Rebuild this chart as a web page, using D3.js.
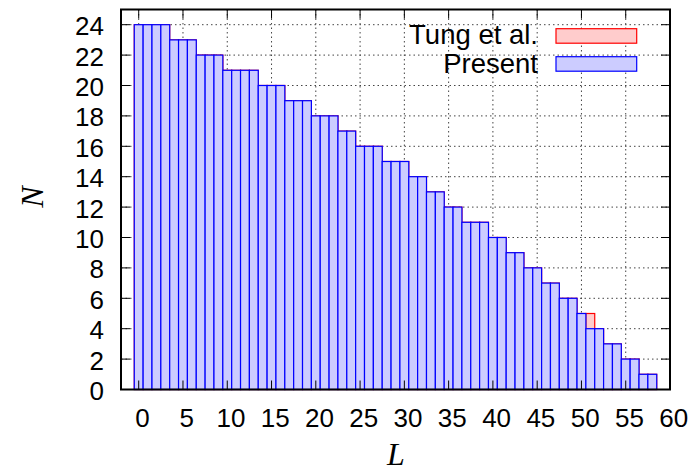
<!DOCTYPE html>
<html>
<head>
<meta charset="utf-8">
<script src="https://cdn.jsdelivr.net/npm/d3@7"></script>
<style>
  html, body { margin: 0; padding: 0; background: #fff; }
  svg { display: block; }
  text { font-family: "Liberation Sans", Arial, sans-serif; fill: #000; }
</style>
</head>
<body>
<svg id="chart" width="691" height="471"></svg>
<script>
const L = [0,1,2,3,4,5,6,7,8,9,10,11,12,13,14,15,16,17,18,19,20,21,22,23,24,25,26,27,28,29,
           30,31,32,33,34,35,36,37,38,39,40,41,42,43,44,45,46,47,48,49,50,51,52,53,54,55,56,57,58];
const present = [24,24,24,24,23,23,23,22,22,22,21,21,21,21,20,20,20,19,19,19,18,18,18,17,17,16,16,16,15,15,
                 15,14,14,13,13,12,12,11,11,11,10,10,9,9,8,8,7,7,6,6,5,4,4,3,3,2,2,1,1];
const tung    = [24,24,24,24,23,23,23,22,22,22,21,21,21,21,20,20,20,19,19,19,18,18,18,17,17,16,16,16,15,15,
                 15,14,14,13,13,12,12,11,11,11,10,10,9,9,8,8,7,7,6,6,5,5,4,3,3,2,2,1,1];
const xTicks = [0,5,10,15,20,25,30,35,40,45,50,55,60];
const yTicks = [0,2,4,6,8,10,12,14,16,18,20,22,24];
const seriesNames = ["Tung et al.", "Present"];

const svg = d3.select("#chart");
const pLeft = 121, pRight = 670, pTop = 9.5, pBottom = 389.5;
const x = d3.scaleLinear().domain([-2, 60]).range([pLeft, pRight]);
const y = d3.scaleLinear().domain([0, 25]).range([pBottom, pTop]);
const FONT = 26, TICK = 9;

// grid
const grid = svg.append("g").attr("stroke", "#444").attr("stroke-width", 1).attr("stroke-dasharray", "1.5,3");
xTicks.filter(t => t > -2 && t < 60).forEach(t => {
  grid.append("line").attr("x1", x(t)).attr("x2", x(t)).attr("y1", pTop).attr("y2", pBottom);
});
yTicks.filter(t => t > 0 && t < 25).forEach(t => {
  grid.append("line").attr("x1", pLeft).attr("x2", pRight).attr("y1", y(t)).attr("y2", y(t));
});

// bars
function drawBars(vals, fill, stroke) {
  svg.append("g").selectAll("rect").data(L).join("rect")
    .attr("x", d => x(d - 0.5))
    .attr("width", d => x(d + 0.5) - x(d - 0.5))
    .attr("y", (d, i) => y(vals[i]))
    .attr("height", (d, i) => y(0) - y(vals[i]))
    .attr("fill", fill).attr("stroke", stroke).attr("stroke-width", 1.2);
}
drawBars(tung, "#ffcccc", "#ff0000");
drawBars(present, "#ccccff", "#0000ff");

// ticks (inside, on all sides)
const tk = svg.append("g").attr("stroke", "#000").attr("stroke-width", 1);
xTicks.forEach(t => {
  tk.append("line").attr("x1", x(t)).attr("x2", x(t)).attr("y1", pBottom).attr("y2", pBottom - TICK);
  tk.append("line").attr("x1", x(t)).attr("x2", x(t)).attr("y1", pTop).attr("y2", pTop + TICK);
});
yTicks.forEach(t => {
  tk.append("line").attr("x1", pLeft).attr("x2", pLeft + TICK).attr("y1", y(t)).attr("y2", y(t));
  tk.append("line").attr("x1", pRight).attr("x2", pRight - TICK).attr("y1", y(t)).attr("y2", y(t));
});

// frame
svg.append("rect").attr("x", pLeft).attr("y", pTop).attr("width", pRight - pLeft).attr("height", pBottom - pTop)
  .attr("fill", "none").attr("stroke", "#000").attr("stroke-width", 2);

// tick labels
svg.append("g").selectAll("text").data(xTicks).join("text")
  .attr("x", d => x(d) + 3.7).attr("y", 427)
  .attr("text-anchor", "middle").attr("font-size", FONT).text(d => d);
svg.append("g").selectAll("text").data(yTicks).join("text")
  .attr("x", 104).attr("y", d => y(d) + 10.5)
  .attr("text-anchor", "end").attr("font-size", FONT).text(d => d);

// axis labels
svg.append("text").attr("x", 396).attr("y", 465).attr("text-anchor", "middle")
  .style("font-family", "'Liberation Serif', 'Times New Roman', serif").style("font-style", "italic")
  .attr("font-size", 32).text("L");
svg.append("text").attr("transform", "translate(43,197) rotate(-90)").attr("text-anchor", "middle")
  .style("font-family", "'Liberation Serif', 'Times New Roman', serif").style("font-style", "italic")
  .attr("font-size", 32).text("N");

// legend
const legend = [
  { name: seriesNames[0], fill: "#ffcccc", stroke: "#ff0000", by: 44, ry: 28.7 },
  { name: seriesNames[1], fill: "#ccccff", stroke: "#0000ff", by: 72.5, ry: 56.7 }
];
legend.forEach(l => {
  svg.append("text").attr("x", 538).attr("y", l.by).attr("text-anchor", "end")
    .attr("font-size", 27.5).text(l.name);
  svg.append("rect").attr("x", 556).attr("y", l.ry).attr("width", 80.7).attr("height", 14.5)
    .attr("fill", l.fill).attr("stroke", l.stroke).attr("stroke-width", 1.2);
});
</script>
</body>
</html>
